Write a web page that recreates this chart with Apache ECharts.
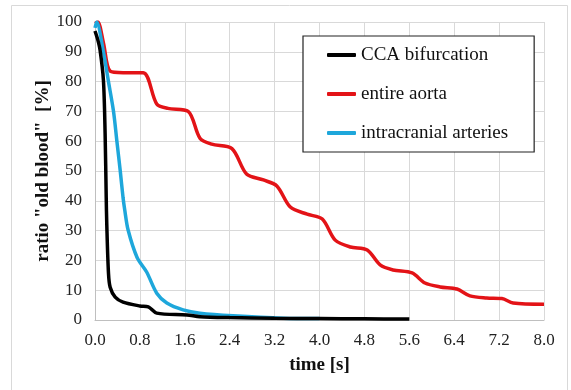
<!DOCTYPE html>
<html>
<head>
<meta charset="utf-8">
<script src="https://cdn.jsdelivr.net/npm/echarts@6/dist/echarts.min.js"></script>
<style>
  html, body { margin: 0; padding: 0; background: #fff; }
  #main { width: 571px; height: 390px; }
</style>
</head>
<body>
<div id="main"></div>
<script>
// data: time [s] and ratio of "old blood" [%]
var ccaTime  = [0.0, 0.05, 0.09, 0.15, 0.18, 0.20, 0.21, 0.24, 0.27, 0.36, 0.50, 0.80, 0.95, 1.10, 1.64, 1.87, 2.40, 3.20, 4.00, 4.80, 5.60];
var ccaRatio = [97, 94, 90.6, 80.5, 62.7, 41, 32, 15.8, 11, 7.7, 6, 4.7, 4.4, 2.3, 1.7, 1.1, 0.8, 0.6, 0.5, 0.4, 0.3];

var aortaTime  = [0.0, 0.05, 0.15, 0.27, 0.50, 0.86, 1.10, 1.30, 1.66, 1.87, 2.08, 2.44, 2.70, 3.00, 3.24, 3.48, 3.78, 4.05, 4.28, 4.55, 4.85, 5.08, 5.31, 5.65, 5.88, 6.15, 6.45, 6.68, 6.98, 7.25, 7.45, 8.00];
var aortaRatio = [99.5, 100, 93, 83.5, 83, 83, 72.5, 71, 70, 61, 59, 57.5, 49, 47, 45, 37.9, 35.5, 33.9, 26.8, 24.5, 23.5, 18.5, 16.8, 15.8, 12.4, 11.1, 10.4, 8.1, 7.4, 7.2, 5.7, 5.3];

var intraTime  = [0.0, 0.03, 0.15, 0.24, 0.33, 0.39, 0.45, 0.50, 0.53, 0.59, 0.75, 0.92, 1.10, 1.28, 1.57, 1.87, 2.46, 3.36, 4.00];
var intraRatio = [98, 100, 90, 80, 70, 60, 50, 41, 36.9, 30.2, 21, 16.1, 9, 5.7, 3.4, 2.3, 1.4, 0.6, 0.5];

var seriesNames = ['CCA bifurcation', 'entire aorta', 'intracranial arteries'];
var seriesColors = ['#000000', '#e31317', '#1ea7db'];

function pairs(t, v) {
    var out = [];
    for (var i = 0; i < t.length; i++) {
        out.push([t[i], v[i]]);
    }
    return out;
}

var myChart = echarts.init(document.getElementById('main'));
var serif = '"Liberation Serif", "DejaVu Serif", serif';

var option = {
    animation: false,
    color: seriesColors,
    textStyle: { fontFamily: serif },
    graphic: [
        {
            type: 'rect',
            shape: { x: 11.5, y: 5.5, width: 556, height: 400 },
            style: { fill: 'none', stroke: '#d9d9d9', lineWidth: 1 },
            z: -1
        }
    ],
    grid: {
        left: 95,
        right: 27,
        top: 22,
        bottom: 70
    },
    legend: {
        orient: 'vertical',
        left: 303,
        top: 36,
        icon: 'roundRect',
        itemWidth: 29,
        itemHeight: 4,
        itemGap: 19,
        padding: [9, 26, 9, 24],
        backgroundColor: '#fff',
        borderColor: '#222',
        borderWidth: 1.2,
        borderRadius: 0,
        textStyle: {
            fontFamily: serif,
            fontSize: 19,
            color: '#111',
            lineHeight: 20
        },
        data: seriesNames
    },
    xAxis: {
        type: 'value',
        min: 0,
        max: 8,
        interval: 0.8,
        name: 'time [s]',
        nameLocation: 'middle',
        nameGap: 36,
        nameTextStyle: {
            fontFamily: serif,
            fontSize: 19,
            fontWeight: 'bold',
            color: '#111'
        },
        axisLine: { show: true, lineStyle: { color: '#bfbfbf', width: 1 } },
        axisTick: { show: false },
        axisLabel: {
            margin: 12,
            fontSize: 17,
            color: '#222',
            fontFamily: serif,
            formatter: function (v) { return v.toFixed(1); }
        },
        splitLine: { show: true, lineStyle: { color: '#d9d9d9', width: 1 } }
    },
    yAxis: {
        type: 'value',
        min: 0,
        max: 100,
        interval: 10,
        name: 'ratio "old blood"  [%]',
        nameLocation: 'middle',
        nameGap: 42,
        nameMoveOverlap: false,
        nameTextStyle: {
            fontFamily: serif,
            fontSize: 19,
            fontWeight: 'bold',
            color: '#111'
        },
        axisLine: { show: true, lineStyle: { color: '#bfbfbf', width: 1 } },
        axisTick: { show: false },
        axisLabel: {
            margin: 13,
            fontSize: 17,
            color: '#222',
            fontFamily: serif
        },
        splitLine: { show: true, lineStyle: { color: '#d9d9d9', width: 1 } }
    },
    series: [
        {
            name: seriesNames[0],
            type: 'line',
            data: pairs(ccaTime, ccaRatio),
            showSymbol: false,
            smooth: 0.3,
            lineStyle: { width: 3.5, color: seriesColors[0] },
            z: 3
        },
        {
            name: seriesNames[1],
            type: 'line',
            data: pairs(aortaTime, aortaRatio),
            showSymbol: false,
            smooth: 0.3,
            lineStyle: { width: 3.5, color: seriesColors[1] },
            z: 1
        },
        {
            name: seriesNames[2],
            type: 'line',
            data: pairs(intraTime, intraRatio),
            showSymbol: false,
            smooth: 0.3,
            lineStyle: { width: 3.5, color: seriesColors[2] },
            z: 2
        }
    ]
};

myChart.setOption(option);
window.onresize = function () {
    myChart.resize();
};
</script>
</body>
</html>
